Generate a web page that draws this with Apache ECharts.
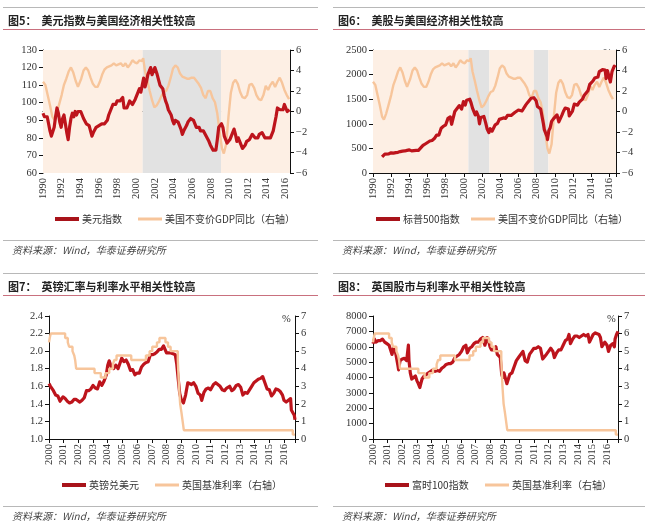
<!DOCTYPE html>
<html><head><meta charset="utf-8">
<script src="https://cdn.jsdelivr.net/npm/echarts@6/dist/echarts.min.js"></script>
<style>html,body{margin:0;padding:0;background:#fff}#c{width:646px;height:532px}</style>
</head><body><div id="c"></div>
<script>
// ---------- DATA ----------
// Panel 5: US dollar index (left) & US real GDP yoy (right)
const dxyT = [1990.0,1990.15,1990.3,1990.45,1990.6,1990.75,1990.9,1991.05,1991.2,1991.35,1991.5,1991.65,1991.8,1991.95,1992.1,1992.25,1992.4,1992.55,1992.7,1992.85,1993.0,1993.15,1993.3,1993.45,1993.6,1993.75,1993.9,1994.05,1994.2,1994.35,1994.5,1994.65,1994.8,1994.95,1995.1,1995.25,1995.4,1995.55,1995.7,1995.85,1996.0,1996.15,1996.3,1996.45,1996.6,1996.75,1996.9,1997.05,1997.2,1997.35,1997.5,1997.65,1997.8,1997.95,1998.1,1998.25,1998.4,1998.55,1998.7,1998.85,1999.0,1999.15,1999.3,1999.45,1999.6,1999.75,1999.9,2000.05,2000.2,2000.35,2000.5,2000.65,2000.8,2000.95,2001.1,2001.25,2001.4,2001.55,2001.7,2001.85,2002.0,2002.1,2002.25,2002.4,2002.55,2002.7,2002.85,2003.0,2003.15,2003.3,2003.45,2003.6,2003.75,2003.9,2004.05,2004.2,2004.35,2004.5,2004.65,2004.8,2004.95,2005.1,2005.25,2005.4,2005.55,2005.7,2005.85,2006.0,2006.15,2006.3,2006.45,2006.6,2006.75,2006.9,2007.05,2007.2,2007.35,2007.5,2007.65,2007.8,2007.95,2008.1,2008.25,2008.4,2008.55,2008.7,2008.85,2009.0,2009.15,2009.3,2009.45,2009.6,2009.75,2009.9,2010.05,2010.2,2010.35,2010.5,2010.65,2010.8,2010.95,2011.1,2011.25,2011.4,2011.55,2011.7,2011.85,2012.0,2012.15,2012.3,2012.45,2012.6,2012.75,2012.9,2013.05,2013.2,2013.35,2013.5,2013.65,2013.8,2013.95,2014.1,2014.25,2014.4,2014.55,2014.7,2014.85,2015.0,2015.15,2015.3,2015.45,2015.6,2015.75,2015.9,2016.05,2016.2,2016.35,2016.45];
const dxyV = [94,92,91,92,88,84,81,80,86,92,97,94,89,86,91,93,88,83,79,86,91,94,92,95,93,95,96,95,93,91,90,88,89,87,84,81,83,84,86,86,87,88,88,87,88,88,90,93,95,96,99,100,99,101,100,101,102,103,97,96,97,99,101,102,99,100,102,104,106,108,106,110,114,109,112,116,118,120,116,117,120,119,116,113,110,111,108,104,101,99,96,97,93,90,88,90,91,89,89,85,82,84,85,87,89,90,91,90,90,88,86,86,86,84,85,84,83,81,81,78,76,75,73,72,73,79,86,85,88,86,81,79,77,76,79,81,83,85,82,78,80,78,76,74,75,76,78,79,79,79,82,82,80,80,80,82,83,83,82,80,80,80,80,80,81,84,88,92,97,98,96,96,96,99,98,95,94,96];
const gdpT = [1990.0,1990.25,1990.5,1990.75,1991.0,1991.2,1991.45,1991.7,1992.0,1992.25,1992.5,1992.75,1993.0,1993.25,1993.5,1993.75,1993.9,1994.1,1994.35,1994.6,1994.85,1995.1,1995.35,1995.6,1995.85,1996.1,1996.35,1996.6,1996.85,1997.1,1997.35,1997.6,1997.85,1998.1,1998.35,1998.6,1998.85,1999.1,1999.35,1999.6,1999.85,2000.1,2000.35,2000.6,2000.75,2000.95,2001.2,2001.45,2001.7,2001.95,2002.2,2002.45,2002.7,2002.95,2003.2,2003.45,2003.7,2003.95,2004.2,2004.45,2004.7,2004.95,2005.2,2005.45,2005.7,2005.95,2006.2,2006.45,2006.7,2006.95,2007.2,2007.45,2007.7,2007.95,2008.2,2008.45,2008.7,2008.95,2009.2,2009.4,2009.65,2009.9,2010.15,2010.4,2010.65,2010.9,2011.15,2011.4,2011.65,2011.9,2012.15,2012.4,2012.65,2012.9,2013.15,2013.4,2013.65,2013.9,2014.15,2014.4,2014.65,2014.9,2015.15,2015.4,2015.65,2015.9,2016.15,2016.4];
const gdpV = [2.9,2.6,1.6,0.6,-0.5,-0.8,-0.2,0.6,1.6,2.6,3.2,3.9,4.3,3.8,3.0,2.4,2.5,3.2,4.0,4.3,4.0,3.3,2.7,2.4,2.4,2.9,3.6,4.1,4.3,4.4,4.5,4.7,4.5,4.6,4.7,4.4,4.7,4.3,4.6,5.0,4.8,4.7,5.0,4.9,5.2,3.9,3.0,2.0,1.1,0.4,0.6,1.0,1.5,1.9,2.0,2.5,3.3,4.2,4.5,4.3,3.7,3.4,3.3,3.2,3.2,3.3,3.3,3.0,2.7,2.3,1.6,1.3,2.0,2.0,1.3,0.9,-0.2,-2.0,-3.6,-4.1,-3.2,-0.5,1.8,2.8,3.1,2.7,1.9,1.4,1.3,1.6,2.6,2.7,2.3,1.6,1.2,1.1,1.6,2.5,2.1,2.6,2.9,2.4,2.9,3.3,2.8,2.1,1.6,1.2];
// Panel 6: S&P 500 (left)
const spxT = [1991.0,1991.15,1991.3,1991.5,1991.75,1992.0,1992.25,1992.5,1992.75,1993.0,1993.25,1993.5,1993.75,1994.0,1994.25,1994.5,1994.75,1995.0,1995.25,1995.5,1995.75,1996.0,1996.25,1996.5,1996.75,1997.0,1997.25,1997.5,1997.75,1998.0,1998.25,1998.5,1998.65,1998.8,1999.0,1999.25,1999.5,1999.75,1999.95,2000.15,2000.3,2000.5,2000.65,2000.8,2000.95,2001.1,2001.25,2001.4,2001.6,2001.72,2001.85,2002.0,2002.2,2002.4,2002.55,2002.75,2002.9,2003.1,2003.25,2003.45,2003.7,2003.9,2004.1,2004.35,2004.6,2004.8,2004.95,2005.2,2005.4,2005.6,2005.8,2006.0,2006.2,2006.4,2006.6,2006.8,2007.0,2007.2,2007.4,2007.55,2007.7,2007.8,2007.95,2008.1,2008.3,2008.45,2008.6,2008.75,2008.85,2009.0,2009.15,2009.2,2009.35,2009.5,2009.65,2009.85,2010.0,2010.25,2010.45,2010.6,2010.8,2010.95,2011.15,2011.35,2011.5,2011.6,2011.75,2011.95,2012.15,2012.35,2012.5,2012.7,2012.9,2013.05,2013.25,2013.45,2013.65,2013.85,2014.0,2014.2,2014.4,2014.55,2014.75,2014.9,2015.05,2015.25,2015.4,2015.55,2015.65,2015.8,2015.95,2016.05,2016.12,2016.3,2016.45,2016.55,2016.7];
const spxV = [330,370,385,385,390,410,405,415,420,435,445,448,460,470,450,455,460,460,510,560,590,620,650,660,700,770,770,910,950,980,1110,1140,990,1100,1250,1310,1370,1300,1450,1380,1480,1450,1500,1420,1320,1300,1180,1240,1150,1000,1130,1140,1150,1020,900,820,900,850,880,980,1010,1090,1130,1120,1110,1170,1210,1170,1190,1230,1240,1280,1300,1260,1290,1380,1430,1420,1520,1480,1530,1550,1470,1350,1380,1300,1260,1000,880,870,740,680,860,920,1050,1100,1120,1180,1040,1100,1180,1250,1320,1340,1300,1160,1200,1260,1400,1360,1380,1440,1420,1500,1580,1620,1670,1800,1790,1870,1930,1970,1950,2060,2050,2100,2110,2090,1920,2080,2040,1900,1850,2060,2090,2170,2150];
// Panel 7: GBP/USD (left) & UK bank rate (right)
const gbpT = [2000.0,2000.1,2000.2,2000.3,2000.45,2000.6,2000.75,2000.85,2000.95,2001.1,2001.25,2001.4,2001.55,2001.7,2001.85,2001.95,2002.1,2002.25,2002.4,2002.55,2002.7,2002.85,2003.0,2003.15,2003.3,2003.45,2003.6,2003.75,2003.9,2004.0,2004.1,2004.25,2004.4,2004.55,2004.7,2004.85,2004.95,2005.1,2005.25,2005.4,2005.55,2005.7,2005.85,2006.0,2006.15,2006.3,2006.45,2006.6,2006.75,2006.9,2007.05,2007.2,2007.35,2007.5,2007.65,2007.8,2007.9,2008.0,2008.15,2008.3,2008.45,2008.6,2008.7,2008.8,2008.9,2009.0,2009.15,2009.3,2009.45,2009.55,2009.7,2009.85,2010.0,2010.15,2010.3,2010.4,2010.55,2010.7,2010.85,2011.0,2011.2,2011.35,2011.5,2011.65,2011.8,2011.95,2012.1,2012.3,2012.45,2012.6,2012.75,2012.9,2013.05,2013.2,2013.35,2013.5,2013.65,2013.8,2013.95,2014.1,2014.25,2014.4,2014.55,2014.7,2014.85,2015.0,2015.15,2015.3,2015.45,2015.6,2015.75,2015.9,2016.0,2016.15,2016.3,2016.45,2016.5,2016.6,2016.7,2016.75];
const gbpV = [1.63,1.60,1.58,1.55,1.50,1.49,1.43,1.45,1.48,1.46,1.43,1.41,1.42,1.45,1.45,1.44,1.42,1.44,1.47,1.55,1.55,1.57,1.61,1.58,1.57,1.65,1.61,1.66,1.73,1.84,1.89,1.81,1.80,1.84,1.80,1.87,1.92,1.88,1.90,1.85,1.78,1.79,1.73,1.75,1.75,1.82,1.85,1.87,1.88,1.96,1.96,1.97,1.99,2.02,2.02,2.06,2.02,1.98,1.98,1.98,1.97,1.96,1.85,1.68,1.52,1.45,1.41,1.50,1.64,1.66,1.62,1.64,1.60,1.52,1.50,1.44,1.53,1.57,1.58,1.56,1.62,1.64,1.62,1.60,1.56,1.55,1.58,1.60,1.55,1.57,1.61,1.62,1.59,1.50,1.53,1.52,1.56,1.60,1.64,1.66,1.68,1.69,1.71,1.64,1.57,1.56,1.49,1.52,1.57,1.56,1.54,1.50,1.44,1.42,1.44,1.46,1.33,1.31,1.27,1.22];
const rateT = [2000.0,2000.05,2000.12,2001.1,2001.28,2001.37,2001.6,2001.72,2001.78,2001.85,2003.1,2003.53,2003.85,2004.1,2004.35,2004.45,2004.6,2005.6,2006.6,2006.85,2007.03,2007.35,2007.52,2007.93,2008.1,2008.28,2008.77,2008.85,2008.93,2009.02,2009.1,2009.18,2016.6,2016.75];
const rateV = [5.5,5.75,6.0,5.75,5.5,5.25,5.0,4.75,4.5,4.0,3.75,3.5,3.75,4.0,4.25,4.5,4.75,4.5,4.75,5.0,5.25,5.5,5.75,5.5,5.25,5.0,4.5,3.0,2.0,1.5,1.0,0.5,0.25,0.25];
// Panel 8: FTSE 100 (left)
const ftseT = [2000.0,2000.1,2000.2,2000.35,2000.5,2000.65,2000.8,2000.95,2001.1,2001.2,2001.3,2001.4,2001.55,2001.7,2001.75,2001.85,2002.0,2002.15,2002.3,2002.38,2002.42,2002.46,2002.55,2002.65,2002.75,2002.9,2003.0,2003.1,2003.2,2003.35,2003.5,2003.65,2003.8,2003.95,2004.1,2004.25,2004.4,2004.55,2004.7,2004.85,2005.0,2005.15,2005.3,2005.45,2005.6,2005.75,2005.9,2006.05,2006.2,2006.35,2006.45,2006.6,2006.75,2006.9,2007.05,2007.2,2007.35,2007.5,2007.6,2007.65,2007.8,2007.9,2008.0,2008.1,2008.25,2008.4,2008.5,2008.6,2008.7,2008.8,2008.87,2008.95,2009.05,2009.15,2009.25,2009.35,2009.5,2009.65,2009.8,2009.95,2010.1,2010.25,2010.4,2010.55,2010.7,2010.85,2011.0,2011.15,2011.3,2011.45,2011.6,2011.7,2011.85,2012.0,2012.15,2012.3,2012.4,2012.55,2012.7,2012.85,2013.0,2013.15,2013.3,2013.4,2013.5,2013.65,2013.8,2013.95,2014.1,2014.25,2014.4,2014.55,2014.7,2014.8,2014.9,2015.05,2015.2,2015.3,2015.45,2015.55,2015.65,2015.75,2015.85,2016.0,2016.1,2016.25,2016.4,2016.5,2016.55,2016.65,2016.75];
const ftseV = [6200,6500,6300,6400,6400,6500,6300,6200,6100,5800,5500,5900,5600,4800,4500,5100,5200,5250,5100,5200,6100,5100,4300,3900,3800,4100,3800,3600,3350,3900,4100,4200,4300,4400,4500,4400,4450,4400,4600,4700,4850,4900,4900,5000,5300,5400,5500,5700,6000,6100,5600,5900,6000,6200,6300,6300,6500,6600,6500,6100,6600,6400,6000,5800,5800,6000,5500,5400,5300,4200,4000,4300,4200,3600,3700,4200,4300,4700,5100,5300,5500,5700,5100,5000,5500,5700,5900,5900,6000,5900,5200,5100,5500,5700,5900,5700,5300,5600,5800,5800,6100,6400,6500,6800,6200,6500,6700,6700,6600,6700,6800,6700,6800,6300,6500,6800,6900,7000,6800,6600,6000,6100,6300,6100,5700,6100,6200,6000,6500,6800,7000];
// Shading ranges (years)
const shade5 = [[1990,2000.7,'p'],[2000.7,2009.1,'g'],[2009.1,2016.5,'p']];
const shade6 = [[1990,2000.5,'p'],[2000.5,2002.8,'g'],[2002.8,2007.7,'p'],[2007.7,2009.3,'g'],[2009.3,2016.74,'p']];
// Texts
const titles = ['图5：  美元指数与美国经济相关性较高','图6：  美股与美国经济相关性较高','图7：  英镑汇率与利率水平相关性较高','图8：  英国股市与利率水平相关性较高'];
const names = [['美元指数','美国不变价GDP同比（右轴）'],['标普500指数','美国不变价GDP同比（右轴）'],['英镑兑美元','英国基准利率（右轴）'],['富时100指数','英国基准利率（右轴）']];
const source = '资料来源：Wind，华泰证券研究所';

// ---------- BUILD ----------
const zip = (t, v) => t.map((x, i) => [x, v[i]]);
const RED = '#bd141c', ORG = '#f7c59b', PEACH = '#fdefe4', GREY = '#e2e2e2';
const serif = 'Liberation Serif';
const cjk = 'Noto Sans CJK SC';

const grids = [
  {left: 43, width: 247, top: 50, height: 123},
  {left: 373, width: 243, top: 50, height: 123},
  {left: 49, width: 246, top: 316, height: 123},
  {left: 373, width: 245, top: 316, height: 123}
];
const xr = [[1990, 2016.5, 2], [1990, 2016.74, 2], [2000, 2016.75, 1], [2000, 2016.75, 1]];
const yl = [[60, 130, 10, 0], [0, 2500, 500, 0], [1.0, 2.4, 0.2, 1], [0, 8000, 1000, 0]];
const yr = [[-6, 6, 2], [-6, 6, 2], [0, 7, 1], [0, 7, 1]];
const axLine = {show: true, lineStyle: {color: '#111', width: 1}};
const tick = {show: true, length: 4, lineStyle: {color: '#111'}};

const xAxis = [], yAxis = [], series = [], legend = [], graphic = [];
grids.forEach((g, i) => {
  xAxis.push({type: 'value', gridIndex: i, min: xr[i][0], max: xr[i][1], interval: xr[i][2],
    axisLine: axLine, axisTick: tick, splitLine: {show: false},
    axisLabel: {rotate: 90, fontFamily: serif, fontSize: 10.5, color: '#333', margin: 5,
      formatter: v => Math.abs(v - Math.round(v)) < 1e-6 ? String(Math.round(v)) : ''}});
  yAxis.push({type: 'value', gridIndex: i, position: 'left', min: yl[i][0], max: yl[i][1], interval: yl[i][2],
    axisLine: axLine, axisTick: tick, splitLine: {show: false},
    axisLabel: {fontFamily: serif, fontSize: 10.5, color: '#333', margin: 6,
      formatter: v => yl[i][3] ? v.toFixed(yl[i][3]) : String(Math.round(v))}});
  yAxis.push({type: 'value', gridIndex: i, position: 'right', min: yr[i][0], max: yr[i][1], interval: yr[i][2],
    axisLine: axLine, axisTick: tick, splitLine: {show: false},
    axisLabel: {fontFamily: serif, fontSize: 10.5, color: '#333', margin: 6,
      formatter: v => v < 0 ? '\u2212' + (-v) : String(v)}});
});

const redData = [zip(dxyT, dxyV), zip(spxT, spxV), zip(gbpT, gbpV), zip(ftseT, ftseV)];
const orgData = [zip(gdpT, gdpV), zip(gdpT, gdpV), zip(rateT, rateV), zip(rateT, rateV)];
const shades = [shade5, shade6, null, null];

grids.forEach((g, i) => {
  const redOnTop = i < 2;
  const orgSeries = {name: names[i][1], type: 'line', xAxisIndex: i, yAxisIndex: i * 2 + 1,
    data: orgData[i], showSymbol: false, step: i >= 2 ? 'end' : false, z: redOnTop ? 2 : 4,
    lineStyle: {color: ORG, width: 2.4}, itemStyle: {color: ORG}, animation: false};
  if (shades[i]) {
    orgSeries.markArea = {silent: true, label: {show: false},
      data: shades[i].map(s => [{xAxis: s[0], itemStyle: {color: s[2] === 'g' ? GREY : PEACH, opacity: 1}}, {xAxis: s[1]}])};
  }
  series.push(orgSeries);
  series.push({name: names[i][0], type: 'line', xAxisIndex: i, yAxisIndex: i * 2,
    data: redData[i], showSymbol: false, z: 3,
    lineStyle: {color: RED, width: 3.2, join: 'round'}, itemStyle: {color: '#a8131a'}, animation: false});
});

// legends
const legPos = [
  [[50, 216], [133, 216]],
  [[371, 216], [466, 216]],
  [[57, 482], [150, 482]],
  [[380, 482], [480, 482]]
];
grids.forEach((g, i) => {
  [0, 1].forEach(k => {
    legend.push({data: [names[i][k]], left: legPos[i][k][0], top: legPos[i][k][1] - 7,
      icon: 'rect', itemWidth: 24, itemHeight: k === 0 ? 4 : 3, itemGap: 4, selectedMode: false,
      textStyle: {fontFamily: cjk, fontSize: 10, color: '#333', padding: [0, 0, 0, -2]}});
  });
});

// decorations
const panels = [[0, 0], [323, 0], [0, 266], [323, 266]];
const pctPos = [[280, 56], [607, 54], [286, 320], [611, 320]];
panels.forEach((p, i) => {
  const x0 = p[0], y0 = p[1];
  const lx0 = i % 2 === 0 ? 3 : 333, lx1 = i % 2 === 0 ? 318 : 645;
  graphic.push({type: 'line', shape: {x1: lx0, y1: y0 + 7.5, x2: lx1, y2: y0 + 7.5}, style: {stroke: '#b8b8b8', lineWidth: 1}});
  graphic.push({type: 'line', shape: {x1: lx0, y1: y0 + 29.5, x2: lx1, y2: y0 + 29.5}, style: {stroke: '#c9707e', lineWidth: 1}});
  graphic.push({type: 'line', shape: {x1: lx0, y1: y0 + 240.5, x2: lx1, y2: y0 + 240.5}, style: {stroke: '#b8b8b8', lineWidth: 1}});
  graphic.push({type: 'text', left: lx0 + 5, top: y0 + 15, style: {text: titles[i], font: 'bold 11px "Noto Sans CJK SC"', fill: '#222'}});
  graphic.push({type: 'text', left: lx0 + 9, top: y0 + 245, style: {text: source, font: 'italic 10px "Noto Sans CJK SC"', fill: '#444'}});
  graphic.push({type: 'text', left: pctPos[i][0] - 4, top: pctPos[i][1] - 6, style: {text: '%', font: '10.5px "Liberation Serif"', fill: '#333'}});
});

const chart = echarts.init(document.getElementById('c'), null, {renderer: 'canvas'});
chart.setOption({
  backgroundColor: '#fff', animation: false,
  grid: grids, xAxis, yAxis, series, legend, graphic
});
</script></body></html>
